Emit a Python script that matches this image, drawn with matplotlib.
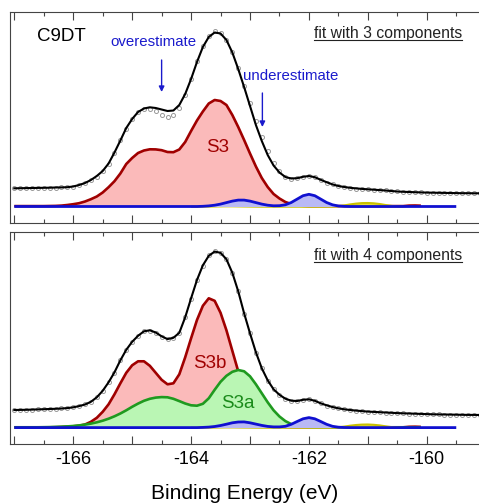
import matplotlib
matplotlib.use("Agg")
import matplotlib.pyplot as plt
from matplotlib.ticker import MultipleLocator, FuncFormatter
from matplotlib.lines import Line2D

plt.rcParams['font.family'] = ['Liberation Sans', 'DejaVu Sans']
plt.rcParams['axes.unicode_minus'] = False

# ---------------- data (binding energy in eV, intensity in arb. units) ----------------
energy = [-167.0, -166.9, -166.8, -166.7, -166.6, -166.5, -166.4, -166.3, -166.2, -166.1,
          -166.0, -165.9, -165.8, -165.7, -165.6, -165.5, -165.4, -165.3, -165.2, -165.1,
          -165.0, -164.9, -164.8, -164.7, -164.6, -164.5, -164.4, -164.3, -164.2, -164.1,
          -164.0, -163.9, -163.8, -163.7, -163.6, -163.5, -163.4, -163.3, -163.2, -163.1,
          -163.0, -162.9, -162.8, -162.7, -162.6, -162.5, -162.4, -162.3, -162.2, -162.1,
          -162.0, -161.9, -161.8, -161.7, -161.6, -161.5, -161.4, -161.3, -161.2, -161.1,
          -161.0, -160.9, -160.8, -160.7, -160.6, -160.5, -160.4, -160.3, -160.2, -160.1,
          -160.0, -159.9, -159.8, -159.7, -159.6, -159.5, -159.4, -159.3, -159.2, -159.1]

# ---- panel 1: fit with 3 components ----
obs1 = [34.9, 34.6, 34.8, 35.1, 34.9, 35.3, 35.2, 35.4, 35.8, 35.6,
        36.3, 38.2, 39.6, 43.4, 46.5, 52.5, 59.0, 70.0, 83.0, 94.5,
        104.5, 111.5, 114.5, 114.5, 112.0, 108.5, 106.5, 108.0, 115.5, 128.0,
        144.5, 162.0, 177.0, 187.5, 192.0, 190.5, 183.5, 171.0, 155.0, 137.5,
        120.0, 102.0, 86.0, 72.0, 60.5, 52.0, 46.5, 44.5, 45.0, 46.5,
        46.8, 46.0, 43.5, 40.5, 38.8, 37.0, 35.8, 35.4, 34.5, 34.2,
        33.6, 33.4, 32.8, 32.6, 31.9, 31.6, 31.1, 31.1, 30.7, 30.7,
        30.3, 30.4, 30.1, 30.2, 29.9, 30.0, 29.7, 29.9, 29.6, 29.8]
fit1 = [34.7, 34.8, 34.9, 35.0, 35.1, 35.2, 35.3, 35.5, 35.6, 35.8,
        36.5, 38.0, 40.0, 43.0, 47.0, 52.0, 59.5, 70.5, 82.5, 95.0,
        104.0, 111.0, 114.5, 115.7, 115.0, 113.5, 112.0, 112.5, 118.0, 129.0,
        144.0, 161.0, 176.0, 186.0, 190.5, 189.5, 183.0, 170.5, 154.0, 136.0,
        117.0, 98.0, 82.0, 68.0, 57.5, 50.5, 46.0, 44.5, 44.8, 46.2,
        47.0, 45.8, 43.2, 40.8, 38.6, 37.0, 36.0, 35.2, 34.6, 34.1,
        33.7, 33.3, 32.9, 32.5, 32.0, 31.5, 31.2, 31.0, 30.8, 30.6,
        30.4, 30.3, 30.2, 30.1, 30.0, 29.9, 29.8, 29.8, 29.7, 29.7]
s3_1 = [16.9, 16.9, 16.9, 16.9, 16.9, 16.9, 17.0, 17.1, 17.4, 18.0,
        18.8, 19.8, 21.5, 23.8, 26.5, 30.5, 35.8, 41.8, 49.5, 59.0,
        65.0, 70.0, 72.5, 73.7, 73.6, 72.8, 71.0, 70.8, 73.5, 81.0,
        92.0, 102.5, 111.5, 119.5, 123.0, 122.0, 118.0, 108.0, 96.0, 83.0,
        69.5, 56.5, 45.0, 36.0, 29.0, 24.5, 21.0, 19.0, 17.8, 17.2,
        16.9, 16.9, 16.9, 16.9, 16.9, 16.9, 16.9, 16.9, 16.9, 16.9,
        16.9, 16.9, 16.9, 16.9, 16.9, 16.9, 16.9, 17.4, 17.5, 17.3]
blue_1 = [16.5, 16.5, 16.5, 16.5, 16.5, 16.5, 16.5, 16.5, 16.5, 16.5,
          16.5, 16.5, 16.5, 16.5, 16.5, 16.5, 16.5, 16.5, 16.5, 16.5,
          16.5, 16.5, 16.5, 16.5, 16.5, 16.5, 16.5, 16.5, 16.5, 16.5,
          16.5, 16.5, 16.7, 17.1, 17.8, 18.9, 20.4, 21.9, 22.9, 22.9,
          21.9, 20.4, 18.9, 17.8, 17.2, 17.3, 18.2, 20.5, 23.9, 27.3,
          28.7, 27.3, 23.9, 20.5, 18.2, 17.0, 16.6, 16.5, 16.5, 16.5,
          16.5, 16.5, 16.5, 16.5, 16.5, 16.5, 16.5, 16.5, 16.5, 16.5,
          16.5, 16.5, 16.5, 16.5, 16.5, 16.5]
yellow_start = 30   # index into energy where the yellow component starts
yellow_1 = [16.3, 16.3, 16.4, 16.5, 16.6, 16.7, 16.8, 16.8, 16.7, 16.6,
            16.5, 16.4, 16.3, 16.3, 16.3, 16.3, 16.3, 16.3, 16.3, 16.3,
            16.3, 16.3, 16.3, 16.3, 16.4, 16.8, 17.6, 18.6, 19.4, 19.9,
            20.0, 19.7, 19.0, 18.0, 17.1, 16.6, 16.3]

# ---- panel 2: fit with 4 components ----
obs2 = [34.5, 34.2, 34.6, 34.5, 35.0, 34.9, 35.4, 35.3, 35.9, 36.0,
        37.2, 38.0, 40.1, 42.3, 47.3, 53.2, 62.4, 71.6, 84.3, 94.2,
        102.8, 108.2, 113.3, 113.8, 111.5, 107.6, 105.0, 106.8, 111.2, 127.4,
        145.6, 164.6, 178.7, 188.8, 193.2, 191.3, 185.3, 171.2, 153.4, 130.6,
        111.3, 91.7, 76.3, 63.8, 55.2, 49.3, 45.8, 43.4, 43.5, 44.3,
        45.2, 43.4, 41.2, 38.8, 37.4, 35.9, 35.1, 34.2, 33.8, 33.1,
        32.8, 32.3, 32.2, 31.7, 31.6, 31.1, 31.1, 30.7, 30.7, 30.3,
        30.3, 29.9, 30.0, 29.7, 29.8, 29.5, 29.6, 29.3, 29.5, 29.2]
fit2 = [34.3, 34.4, 34.5, 34.7, 34.9, 35.1, 35.3, 35.5, 35.8, 36.2,
        37.0, 38.2, 39.8, 42.5, 47.0, 53.5, 62.0, 72.0, 84.0, 94.5,
        102.5, 108.5, 113.0, 114.0, 111.8, 108.0, 105.2, 106.5, 111.5, 127.0,
        146.0, 164.3, 179.0, 188.5, 192.7, 191.5, 185.0, 171.5, 153.0, 131.0,
        111.0, 92.0, 76.0, 64.0, 55.0, 49.5, 45.6, 43.6, 43.3, 44.5,
        45.0, 43.5, 41.0, 39.0, 37.3, 36.0, 35.0, 34.3, 33.7, 33.2,
        32.7, 32.4, 32.1, 31.8, 31.5, 31.2, 31.0, 30.8, 30.6, 30.4,
        30.2, 30.0, 29.9, 29.8, 29.7, 29.6, 29.5, 29.4, 29.4, 29.3]
s3b_2 = [17.0, 17.0, 17.0, 17.0, 17.0, 17.0, 17.0, 17.1, 17.3, 17.6,
         18.0, 18.6, 19.8, 22.5, 26.5, 32.5, 40.0, 50.0, 61.0, 71.5,
         79.0, 83.0, 83.0, 78.5, 71.5, 64.5, 60.0, 61.0, 70.0, 87.0,
         106.0, 124.3, 138.5, 146.0, 143.5, 131.5, 114.0, 93.5, 73.0, 56.0,
         42.5, 32.5, 25.5, 21.5, 19.2, 18.0, 17.4, 17.1, 17.0, 17.0,
         17.0, 17.0, 17.0, 17.0, 17.0, 17.0, 17.0, 17.0, 17.0, 17.0,
         17.0, 17.0, 17.0, 17.0, 17.0, 17.0, 17.0, 17.5, 17.6, 17.4]
s3a_2 = [17.0, 17.0, 17.0, 17.0, 17.0, 17.1, 17.2, 17.4, 17.6, 17.9,
         18.3, 18.9, 19.7, 20.7, 22.0, 23.6, 25.6, 28.0, 30.8, 34.0,
         37.5, 40.7, 43.5, 45.5, 46.7, 47.2, 47.0, 45.5, 43.2, 40.8,
         39.0, 38.6, 40.5, 46.0, 54.5, 62.5, 68.5, 72.5, 74.3, 73.0,
         68.0, 60.0, 51.0, 42.0, 34.0, 27.8, 23.2, 20.2, 18.5, 17.6,
         17.2, 17.0, 17.0, 17.0, 17.0, 17.0, 17.0, 17.0, 17.0, 17.0,
         17.0, 17.0, 17.0, 17.0, 17.0, 17.0, 17.0, 17.0, 17.0, 17.0]
blue_2 = [16.7, 16.7, 16.7, 16.7, 16.7, 16.7, 16.7, 16.7, 16.7, 16.7,
          16.7, 16.7, 16.7, 16.7, 16.7, 16.7, 16.7, 16.7, 16.7, 16.7,
          16.7, 16.7, 16.7, 16.7, 16.7, 16.7, 16.7, 16.7, 16.7, 16.7,
          16.7, 16.7, 16.9, 17.2, 17.8, 18.8, 20.1, 21.5, 22.3, 22.4,
          21.5, 20.2, 18.9, 17.9, 17.4, 17.4, 18.0, 20.0, 22.8, 25.5,
          26.7, 25.5, 22.8, 20.0, 18.0, 17.1, 16.8, 16.7, 16.7, 16.7,
          16.7, 16.7, 16.7, 16.7, 16.7, 16.7, 16.7, 16.7, 16.7, 16.7,
          16.7, 16.7, 16.7, 16.7, 16.7, 16.7]
yellow_2 = [16.5, 16.5, 16.6, 16.7, 16.8, 16.9, 17.0, 17.0, 16.9, 16.8,
            16.7, 16.6, 16.5, 16.5, 16.5, 16.5, 16.5, 16.5, 16.5, 16.5,
            16.5, 16.5, 16.5, 16.5, 16.6, 17.0, 17.7, 18.6, 19.3, 19.7,
            19.8, 19.5, 18.9, 18.0, 17.2, 16.8, 16.5]

tick_major = 1.0
tick_minor = 0.5

# ---------------- styling ----------------
RED, PINK = '#a00000', '#fbbaba'
BLUE, LBLUE = '#1010d0', '#b9b9f5'
GREEN, LGREEN = '#1f9a1f', '#baf6b4'
YEL, LYEL = '#c8c000', '#e6dc3c'
TXTBLUE = '#1a1acc'

W, H = 479, 503
fig = plt.figure(figsize=(W / 100, H / 100), dpi=100)
ax1 = fig.add_axes([10 / W, 1 - 223 / H, 469 / W, 210.7 / H])
ax2 = fig.add_axes([10 / W, 1 - 444.3 / H, 469 / W, 212.3 / H])


def component(ax, e, vals, line, fill, lw=1.9, z=2):
    ax.fill_between(e, min(vals), vals, color=fill, lw=0, zorder=z)
    ax.plot(e, vals, color=line, lw=lw, zorder=z + 0.1, solid_capstyle='butt')


def style(ax, ylim, labels):
    ax.set_xlim(-167.073, -159.114)
    ax.set_ylim(0, ylim)
    ax.xaxis.set_major_locator(MultipleLocator(tick_major))
    ax.xaxis.set_minor_locator(MultipleLocator(tick_minor))
    ax.tick_params(axis='x', which='both', direction='in', top=True, bottom=True,
                   color='#444444', width=0.8, labelsize=13, pad=5)
    ax.tick_params(axis='x', which='major', length=6)
    ax.tick_params(axis='x', which='minor', length=3)
    ax.set_yticks([])
    ax.spines['right'].set_visible(False)
    for s in ('left', 'top', 'bottom'):
        ax.spines[s].set_color('#444444')
        ax.spines[s].set_linewidth(0.8)
    if labels:
        ax.xaxis.set_major_formatter(FuncFormatter(
            lambda v, p: f"{v:.0f}" if round(v) % 2 == 0 else ""))
    else:
        ax.xaxis.set_major_formatter(FuncFormatter(lambda v, p: ""))


MK = dict(ms=2.9, mfc='white', mec='#999999', mew=0.7, zorder=5, clip_on=False)

# panel 1
e_y = energy[yellow_start:yellow_start + len(yellow_1)]
component(ax1, energy[:len(s3_1)], s3_1, RED, PINK, z=2)
component(ax1, e_y, yellow_1, YEL, LYEL, lw=1.5, z=3)
component(ax1, energy[:len(blue_1)], blue_1, BLUE, LBLUE, lw=2.0, z=4)
ax1.plot(energy, obs1, 'o', **MK)
ax1.plot(energy, fit1, color='black', lw=1.5, zorder=6)
style(ax1, 210.7, False)

ax1.text(0.058, 0.883, 'C9DT', transform=ax1.transAxes, fontsize=13.5, va='center', ha='left')
ax1.text(0.215, 0.859, 'overestimate', transform=ax1.transAxes, fontsize=10.8,
         color=TXTBLUE, va='center', ha='left')
ax1.text(0.497, 0.698, 'underestimate', transform=ax1.transAxes, fontsize=10.8,
         color=TXTBLUE, va='center', ha='left')
ax1.annotate('', xy=(-164.50, 131), xytext=(-164.50, 163),
             arrowprops=dict(arrowstyle='-|>', color=TXTBLUE, lw=1.0, mutation_scale=8,
                             shrinkA=0, shrinkB=0))
ax1.annotate('', xy=(-162.79, 96), xytext=(-162.79, 130),
             arrowprops=dict(arrowstyle='-|>', color=TXTBLUE, lw=1.0, mutation_scale=8,
                             shrinkA=0, shrinkB=0))
ax1.text(-163.55, 76, 'S3', fontsize=13.5, color=RED, ha='center', va='center', zorder=7)
t1 = ax1.text(0.964, 0.898, 'fit with 3 components', transform=ax1.transAxes,
              fontsize=11.3, color='#222222', ha='right', va='center')

# panel 2
component(ax2, energy[:len(s3b_2)], s3b_2, RED, PINK, z=2)
component(ax2, energy[:len(s3a_2)], s3a_2, GREEN, LGREEN, z=2.5)
component(ax2, e_y, yellow_2, YEL, LYEL, lw=1.5, z=3)
component(ax2, energy[:len(blue_2)], blue_2, BLUE, LBLUE, lw=2.0, z=4)
ax2.plot(energy, obs2, 'o', **MK)
ax2.plot(energy, fit2, color='black', lw=1.5, zorder=6)
style(ax2, 212.3, True)
ax2.text(-163.69, 81, 'S3b', fontsize=13.5, color=RED, ha='center', va='center', zorder=7)
ax2.text(-163.21, 41, 'S3a', fontsize=13.5, color='#1a8a1a', ha='center', va='center', zorder=7)
t2 = ax2.text(0.964, 0.888, 'fit with 4 components', transform=ax2.transAxes,
              fontsize=11.3, color='#222222', ha='right', va='center')
ax2.set_xlabel('Binding Energy (eV)', fontsize=15, labelpad=11)

# underline the "fit with ..." labels
fig.canvas.draw()
r = fig.canvas.get_renderer()
inv = fig.transFigure.inverted()
for t in (t1, t2):
    bb = t.get_window_extent(r)
    (x0, y0), (x1, _) = inv.transform([(bb.x0, bb.y0), (bb.x1, bb.y1)])
    yl = y0 + 1.0 / H
    fig.add_artist(Line2D([x0, x1], [yl, yl], color='#222222', lw=0.8))

fig.savefig('out.png', dpi=100)
